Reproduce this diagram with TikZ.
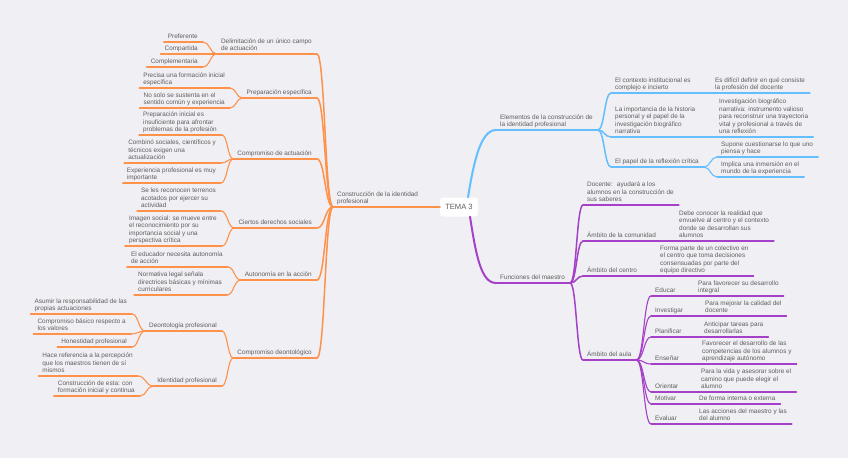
\documentclass[tikz,border=0pt]{standalone}
\usepackage{fontspec}
\setmainfont{Liberation Sans}
\usetikzlibrary{calc}

\definecolor{bgcol}{RGB}{239,239,244}
\definecolor{txtgray}{RGB}{95,95,95}
\definecolor{orng}{RGB}{255,145,75}
\definecolor{skyb}{RGB}{100,190,255}
\definecolor{purp}{RGB}{165,65,200}

\tikzset{
  txt/.style={font=\fontsize{6.4}{7.6}\selectfont, text=txtgray, inner sep=0pt,
              align=left, text depth=1.6pt},
  lva/.style={line width=2pt, line cap=round},
  lvb/.style={line width=1.5pt, line cap=round},
  lvc/.style={line width=1.1pt, line cap=round}
}

% topic on the left: name, right end x, line y, text
\newcommand\ltopic[5][]{%
  \node[txt,anchor=south east] (#2) at ({#3-5},{#4-1.4}) {#5};
  \coordinate (#2-r) at (#3,#4);
  \coordinate (#2-l) at ($(#2-r -| #2.west)+(-4,0)$);
  \draw[#1] (#2-l) -- (#2-r);}
% topic on the right: name, text x, line y, text
\newcommand\rtopic[5][]{%
  \node[txt,anchor=south west] (#2) at (#3,{#4-1.4}) {#5};
  \coordinate (#2-l) at ({#3-4},#4);
  \coordinate (#2-r) at ($(#2-l -| #2.east)+(5,0)$);
  \draw[#1] (#2-l) -- (#2-r);}
\newcommand\link[3][]{%
  \draw[#1] let \p1=(#2), \p2=(#3) in
    (#2) .. controls ({(\x1+\x2)/2},\y1) and ({(\x1+\x2)/2},\y2) .. (#3);}

\begin{document}
\begin{tikzpicture}[x=1pt,y=-1pt]
\fill[bgcol] (0,0) rectangle (848,458);
\useasboundingbox (0,0) rectangle (848,458);

\node[fill=white,rounded corners=3pt,minimum width=38pt,minimum height=19pt,inner sep=0pt,
      font=\fontsize{7.6}{9}\selectfont,text=txtgray] (tema) at (459,207) {TEMA 3};
\coordinate (tema-n) at ([xshift=9pt]tema.north);
\coordinate (tema-s) at ([xshift=11pt]tema.south);

% left branch
\node[txt,anchor=south west] (cons) at (337,205.6) {Construcción de la identidad\\profesional};
\coordinate (cons-l) at (333,207);
\draw[orng,lva] (cons-l) -- (tema.west);

\ltopic[orng,lvb]{deli}{317}{54}{Delimitación de un único campo\\de actuación}
\ltopic[orng,lvc]{pref}{203}{42}{Preferente}
\ltopic[orng,lvc]{comp}{203}{54}{Compartida}
\ltopic[orng,lvc]{cmpl}{203}{67}{Complementaria}
\ltopic[orng,lvb]{prep}{317}{98}{Preparación específica}
\ltopic[orng,lvc]{prec}{230}{88}{Precisa una formación inicial\\específica}
\ltopic[orng,lvc]{sust}{230}{108}{No solo se sustenta en el\\sentido común y experiencia}
\ltopic[orng,lvb]{cact}{317}{159}{Compromiso de actuación}
\ltopic[orng,lvc]{insu}{222}{135}{Preparación inicial es\\insuficiente para afrontar\\problemas de la profesión}
\ltopic[orng,lvc]{comb}{221}{163}{Combinó sociales, científicos y\\técnicos exigen una\\actualización}
\ltopic[orng,lvc]{expe}{221}{183}{Experiencia profesional es muy\\importante}
\ltopic[orng,lvb]{dere}{317}{228}{Ciertos derechos sociales}
\ltopic[orng,lvc]{reco}{221}{211}{Se les reconocen terrenos\\acotados por ejercer su\\actividad}
\ltopic[orng,lvc]{imag}{222}{246}{Imagen social: se mueve entre\\el reconocimiento por su\\importancia social y una\\perspectiva crítica}
\ltopic[orng,lvb]{auto}{317}{280}{Autonomía en la acción}
\ltopic[orng,lvc]{nece}{228}{267}{El educador necesita autonomía\\de acción}
\ltopic[orng,lvc]{norm}{227}{295}{Normativa legal señala\\directrices básicas y mínimas\\curriculares}
\ltopic[orng,lvb]{cdeo}{317}{358}{Compromiso deontológico}
\ltopic[orng,lvc]{deon}{222}{331}{Deontología profesional}
\ltopic[orng,lvc]{asum}{132}{314}{Asumir la responsabilidad de las\\propias actuaciones}
\ltopic[orng,lvc]{cbas}{131}{334}{Compromiso básico respecto a\\los valores}
\ltopic[orng,lvc]{hone}{132}{347}{Honestidad profesional}
\ltopic[orng,lvc]{iden}{222}{386}{Identidad profesional}
\ltopic[orng,lvc]{perc}{138}{376}{Hace referencia a la percepción\\que los maestros tienen de sí\\mismos}
\ltopic[orng,lvc]{form}{140}{396}{Construcción de esta: con\\formación inicial y continua}

\foreach \a/\b in {cons-l/deli-r,cons-l/prep-r,cons-l/cact-r,cons-l/dere-r,cons-l/auto-r,cons-l/cdeo-r}
  {\link[orng,lvb]{\a}{\b}}
\foreach \a/\b in {deli-l/pref-r,deli-l/comp-r,deli-l/cmpl-r,prep-l/prec-r,prep-l/sust-r,
                   cact-l/insu-r,cact-l/comb-r,cact-l/expe-r,dere-l/reco-r,dere-l/imag-r,
                   auto-l/nece-r,auto-l/norm-r,cdeo-l/deon-r,cdeo-l/iden-r,
                   deon-l/asum-r,deon-l/cbas-r,deon-l/hone-r,iden-l/perc-r,iden-l/form-r}
  {\link[orng,lvc]{\a}{\b}}

% upper right branch
\rtopic[skyb,lva]{elem}{500}{130}{Elementos de la construcción de\\la identidad profesional}
\rtopic[skyb,lvb]{cont}{615}{93}{El contexto institucional es\\complejo e incierto}
\rtopic[skyb,lvc]{difi}{715}{93}{Es difícil definir en qué consiste\\la profesión del docente}
\rtopic[skyb,lvb]{hist}{615}{137}{La importancia de la historia\\personal y el papel de la\\investigación biográfico\\narrativa}
\rtopic[skyb,lvc]{inst}{719}{137}{Investigación biográfico\\narrativa: instrumento valioso\\para reconstruir una trayectoria\\vital y profesional a través de\\una reflexión}
\rtopic[skyb,lvb]{refl}{615}{167}{El papel de la reflexión crítica}
\rtopic[skyb,lvc]{cues}{721}{157}{Supone cuestionarse lo que uno\\piensa y hace}
\rtopic[skyb,lvc]{inme}{721}{177}{Implica una inmersión en el\\mundo de la experiencia}

\draw[skyb,lva] (tema-n) .. controls (474,160) and (481,130) .. (elem-l);
\foreach \b in {cont-l,hist-l,refl-l} {\link[skyb,lvb]{elem-r}{\b}}
\foreach \a/\b in {cont-r/difi-l,hist-r/inst-l,refl-r/cues-l,refl-r/inme-l}
  {\link[skyb,lvc]{\a}{\b}}

% lower right branch
\rtopic[purp,lva]{func}{500}{283}{Funciones del maestro}
\rtopic[purp,lvb]{doce}{587}{205}{Docente: \ ayudará a los\\alumnos en la construcción de\\sus saberes}
\rtopic[purp,lvb]{comu}{587}{241}{Ámbito de la comunidad}
\rtopic[purp,lvc]{real}{679}{241}{Debe conocer la realidad que\\envuelve al centro y el contexto\\donde se desarrollan sus\\alumnos}
\rtopic[purp,lvb]{cent}{587}{276}{Ámbito del centro}
\rtopic[purp,lvc]{cole}{660}{276}{Forma parte de un colectivo en\\el centro que toma decisiones\\consensuadas por parte del\\equipo directivo}
\rtopic[purp,lvb]{aula}{587}{360}{Ámbito del aula}
\rtopic[purp,lvc]{educ}{655}{296}{Educar}
\rtopic[purp,lvc]{inte}{698}{296}{Para favorecer su desarrollo\\integral}
\rtopic[purp,lvc]{inve}{655}{316}{Investigar}
\rtopic[purp,lvc]{cali}{705}{316}{Para mejorar la calidad del\\docente}
\rtopic[purp,lvc]{plan}{655}{337}{Planificar}
\rtopic[purp,lvc]{anti}{704}{337}{Anticipar tareas para\\desarrollarlas}
\rtopic[purp,lvc]{ense}{655}{364}{Enseñar}
\rtopic[purp,lvc]{favo}{702}{364}{Favorecer el desarrollo de las\\competencias de los alumnos y\\aprendizaje autónomo}
\rtopic[purp,lvc]{orie}{655}{392}{Orientar}
\rtopic[purp,lvc]{vida}{701}{392}{Para la vida y asesorar sobre el\\camino que puede elegir el\\alumno}
\rtopic[purp,lvc]{moti}{655}{404}{Motivar}
\rtopic[purp,lvc]{inex}{699}{404}{De forma interna o externa}
\rtopic[purp,lvc]{eval}{655}{424}{Evaluar}
\rtopic[purp,lvc]{acci}{699}{424}{Las acciones del maestro y las\\del alumno}

\draw[purp,lva] (tema-s) .. controls (476,255) and (481,283) .. (func-l);
\foreach \b in {doce-l,comu-l,cent-l,aula-l} {\link[purp,lvb]{func-r}{\b}}
\foreach \a/\b in {comu-r/real-l,cent-r/cole-l,aula-r/educ-l,aula-r/inve-l,aula-r/plan-l,
                   aula-r/ense-l,aula-r/orie-l,aula-r/moti-l,aula-r/eval-l,
                   educ-r/inte-l,inve-r/cali-l,plan-r/anti-l,ense-r/favo-l,
                   orie-r/vida-l,moti-r/inex-l,eval-r/acci-l}
  {\link[purp,lvc]{\a}{\b}}
\end{tikzpicture}
\end{document}
